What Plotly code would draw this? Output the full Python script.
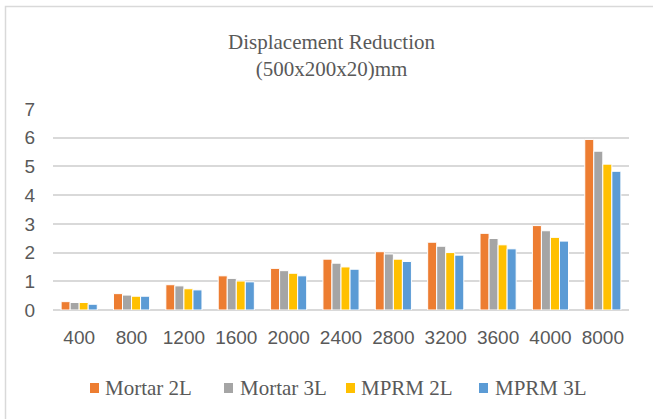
import plotly.graph_objects as go

categories = ["400", "800", "1200", "1600", "2000", "2400", "2800", "3200", "3600", "4000", "8000"]
mortar_2l = [0.29, 0.57, 0.88, 1.19, 1.45, 1.77, 2.03, 2.36, 2.67, 2.94, 5.94]
mortar_3l = [0.26, 0.52, 0.84, 1.10, 1.37, 1.63, 1.95, 2.22, 2.49, 2.76, 5.53]
mprm_2l = [0.26, 0.48, 0.74, 1.01, 1.28, 1.50, 1.77, 2.00, 2.27, 2.53, 5.08]
mprm_3l = [0.20, 0.48, 0.70, 0.98, 1.19, 1.42, 1.69, 1.91, 2.13, 2.40, 4.83]
series_names = ["Mortar 2L", "Mortar 3L", "MPRM 2L", "MPRM 3L"]
series_colors = ["#ED7D31", "#A5A5A5", "#FFC000", "#5B9BD5"]
y_ticks = [0, 1, 2, 3, 4, 5, 6, 7]

W, H = 653, 419
L, R, T, B = 53, 629, 109, 310
pw, ph = R - L, B - T

def px(x):
    return (x - L) / pw

def py(y):
    return (B - y) / ph

fig = go.Figure()
for name, vals, col in zip(series_names, [mortar_2l, mortar_3l, mprm_2l, mprm_3l], series_colors):
    fig.add_trace(go.Bar(x=categories, y=vals, name=name,
                         marker=dict(color=col, line=dict(color="white", width=1))))

tick_font = dict(family="Liberation Sans Narrow, Liberation Sans", size=19, color="#595959")
serif = "Liberation Serif, Times New Roman, serif"

# custom legend (Excel-style: small square followed closely by the label)
legend_marker_x = [90, 224, 346, 479]
legend_text_x = [103, 238, 359, 493]
legend_y = 388
shapes = [
    dict(type="rect", xref="paper", yref="paper", x0=px(5.5), x1=px(670), y0=py(6.5), y1=py(440),
         line=dict(color="#D9D9D9", width=1.5), fillcolor="rgba(0,0,0,0)", layer="below"),
]
annotations = [
    dict(text="Displacement Reduction<br>(500x200x20)mm", x=px(332), y=py(56), xref="paper", yref="paper",
         xanchor="center", yanchor="middle", showarrow=False, align="center",
         font=dict(family=serif, size=21, color="#595959")),
]
for name, col, mx, tx in zip(series_names, series_colors, legend_marker_x, legend_text_x):
    shapes.append(dict(type="rect", xref="paper", yref="paper", x0=px(mx), x1=px(mx + 9),
                       y0=py(legend_y - 5), y1=py(legend_y + 5), line=dict(width=0), fillcolor=col))
    annotations.append(dict(text=name, x=px(tx), y=py(legend_y), xref="paper", yref="paper",
                            xanchor="left", yanchor="middle", showarrow=False,
                            font=dict(family=serif, size=21, color="#595959")))

fig.update_layout(
    width=W, height=H,
    margin=dict(l=L, r=W - R, t=T, b=H - B, pad=0, autoexpand=False),
    paper_bgcolor="white", plot_bgcolor="white",
    barmode="group", bargap=0.31, bargroupgap=0,
    showlegend=False,
    xaxis=dict(type="category", showgrid=False, showline=False, zeroline=False, ticks="",
               tickfont=tick_font, ticklabelstandoff=14, automargin=False),
    yaxis=dict(range=[0, 7], tickvals=y_ticks, showgrid=True, gridcolor="#D9D9D9", gridwidth=1.6,
               zeroline=True, zerolinecolor="#D9D9D9", zerolinewidth=1.6, showline=False, ticks="",
               tickfont=tick_font, ticklabelstandoff=17, automargin=False),
    annotations=annotations,
    shapes=shapes,
)

fig.write_html("out.html", config={"displayModeBar": False},
               post_script="document.body.style.margin='0';document.body.style.overflow='hidden';")
